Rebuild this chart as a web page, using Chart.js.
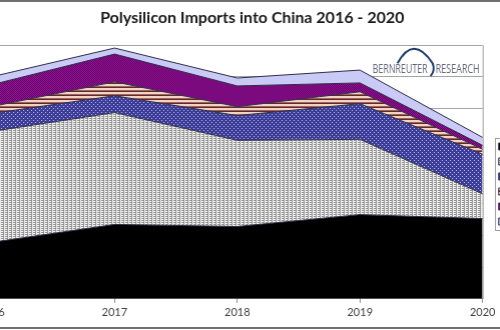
<!DOCTYPE html>
<html>
<head>
<meta charset="utf-8">
<script src="https://cdn.jsdelivr.net/npm/chart.js@4.4.1/dist/chart.umd.min.js"></script>
<style>
    html, body { margin: 0; padding: 0; background: #fff; }
    #frame { position: relative; width: 500px; height: 330px; overflow: hidden; background: #fff; }
    #wrap { position: absolute; top: 0; left: -60px; width: 640px; height: 330px; }
    .rule { position: absolute; left: 0; width: 500px; height: 2px; background: #707070; }
    .rule.top { top: 0; }
    .rule.bottom { top: 327px; }
</style>
</head>
<body>
<div id="frame">
    <div id="wrap"><canvas id="imports-chart"></canvas></div>
    <div class="rule top"></div>
    <div class="rule bottom"></div>
</div>
<script>
// tonnes per year, stacked bottom to top
const years = ["2016", "2017", "2018", "2019", "2020"];
const germany = [35600, 46900, 45600, 53100, 50600];
const korea = [70000, 70600, 54400, 47500, 15600];
const malaysia = [11300, 10600, 15600, 22500, 25000];
const usa = [4400, 8800, 5600, 7500, 3100];
const taiwan = [13800, 17500, 13100, 5600, 2500];
const others = [5000, 3800, 5000, 8100, 5000];
const yTicks = [0, 20000, 40000, 60000, 80000, 100000, 120000, 140000, 160000];

// small repeating tiles for the hatched areas
function tile(w, h, paint) {
    const c = document.createElement("canvas");
    c.width = w; c.height = h;
    const g = c.getContext("2d");
    paint(g);
    return g.createPattern(c, "repeat");
}
const grayDots = tile(4, 2, g => {
    g.fillStyle = "#f2f2f2"; g.fillRect(0, 0, 4, 2);
    g.fillStyle = "#929292"; g.fillRect(0, 0, 3, 1); g.fillRect(2, 1, 1, 1);
});
const blueDots = tile(4, 4, g => {
    g.fillStyle = "#3b3b98"; g.fillRect(0, 0, 4, 4);
    g.fillStyle = "#c4c4ea"; g.fillRect(0, 0, 1, 1); g.fillRect(2, 2, 1, 1);
});
const stripes = tile(4, 4, g => {
    g.fillStyle = "#f4d2c2"; g.fillRect(0, 0, 4, 2);
    g.fillStyle = "#a06262"; g.fillRect(0, 2, 4, 1);
    g.fillStyle = "#5c2c2c"; g.fillRect(0, 3, 4, 1);
});
const purpleCheck = tile(2, 2, g => {
    g.fillStyle = "#95159b"; g.fillRect(0, 0, 2, 2);
    g.fillStyle = "#620062"; g.fillRect(1, 0, 1, 1); g.fillRect(0, 1, 1, 1);
});

function area(label, data, fill, bg) {
    return { label, data, fill, backgroundColor: bg, borderColor: "#2e2e48", borderWidth: 1,
        pointRadius: 0, pointHoverRadius: 0, tension: 0 };
}

// fits a word into a given width by squeezing it horizontally
function squeezeText(ctx, text, x, y, width) {
    const w = ctx.measureText(text).width;
    ctx.save();
    ctx.translate(x, y);
    ctx.scale(width / w, 1);
    ctx.fillText(text, 0, 0);
    ctx.restore();
}

const frameBits = {
    id: "frameBits",
    afterLayout(chart) {
        // legend sits a little away from the plot, lower down
        const lg = chart.legend;
        lg.left += 12; lg.right += 12;
        lg.top += 23; lg.bottom += 23;
    },
    afterDatasetsDraw(chart) {
        const { ctx, chartArea: a } = chart;
        ctx.save();
        ctx.strokeStyle = "#9c9c9c";
        ctx.lineWidth = 1;
        ctx.beginPath();
        ctx.moveTo(a.right + 0.5, a.top);
        ctx.lineTo(a.right + 0.5, a.bottom);
        ctx.stroke();

        // company mark
        ctx.fillStyle = "#606676";
        ctx.font = "12px 'Open Sans'";
        ctx.textBaseline = "alphabetic";
        squeezeText(ctx, "BERNREUTER", a.right - 110, a.top + 28, 55);
        squeezeText(ctx, "RESEARCH", a.right - 47, a.top + 28, 44);
        ctx.strokeStyle = "#1c3a66";
        ctx.lineWidth = 2;
        ctx.beginPath();
        ctx.moveTo(a.right - 85, a.top + 18);
        ctx.quadraticCurveTo(a.right - 69, a.top - 11, a.right - 50, a.top + 18);
        ctx.quadraticCurveTo(a.right - 47, a.top + 25, a.right - 52, a.top + 31);
        ctx.stroke();
        ctx.restore();
    },
    afterDraw(chart) {
        const lg = chart.legend;
        const boxes = lg.legendHitBoxes;
        if (!boxes || !boxes.length) return;
        const first = boxes[0], last = boxes[boxes.length - 1];
        const ctx = chart.ctx;
        ctx.save();
        ctx.strokeStyle = "#a0a0a0";
        ctx.lineWidth = 1;
        ctx.strokeRect(Math.round(lg.left) + 0.5, Math.round(first.top - 3) + 0.5,
            lg.right - lg.left - 2, last.top + last.height - first.top + 6);
        ctx.restore();
    }
};

const chart = new Chart(document.getElementById("imports-chart"), {
    type: "line",
    data: {
        labels: years,
        datasets: [
            area("Germany", germany, "origin", "#000000"),
            area("South Korea", korea, "-1", grayDots),
            area("Malaysia", malaysia, "-1", blueDots),
            area("USA", usa, "-1", stripes),
            area("Taiwan", taiwan, "-1", purpleCheck),
            area("Others", others, "-1", "#cacaf6")
        ]
    },
    options: {
        responsive: true,
        maintainAspectRatio: false,
        animation: false,
        layout: { padding: { left: 0, right: 0, top: 0, bottom: 8 } },
        plugins: {
            title: {
                display: true, text: "Polysilicon Imports into China 2016 - 2020",
                color: "#1a1a1a", font: { family: "Lato", size: 16, weight: "bold" },
                padding: { top: 8, bottom: 18 }
            },
            legend: {
                position: "right",
                labels: { reverse: true, boxWidth: 6, boxHeight: 7, padding: 4,
                    color: "#333", font: { family: "Lato", size: 11 } }
            },
            tooltip: { enabled: false }
        },
        scales: {
            x: {
                grid: { drawOnChartArea: false, tickLength: 4, color: "#888" },
                border: { color: "#8a8a8a" },
                ticks: { color: "#404040", font: { family: "Lato", size: 11 }, padding: 3, maxRotation: 0 }
            },
            y: {
                stacked: true, min: 0, max: 160000,
                afterBuildTicks: s => { s.ticks = yTicks.map(v => ({ value: v })); },
                grid: { color: "#a4a4a4", drawTicks: true },
                border: { display: false },
                ticks: { color: "#404040", font: { family: "Lato", size: 11 } }
            }
        }
    },
    plugins: [frameBits]
});

// place the plot so it runs from just left of the page edge to x = 482
const wrap = document.getElementById("wrap");
const a = chart.chartArea;
const rightSpace = wrap.clientWidth - a.right;
wrap.style.width = (a.left + 490 + rightSpace) + "px";
wrap.style.left = (-8 - a.left) + "px";
chart.resize();
</script>
</body>
</html>
